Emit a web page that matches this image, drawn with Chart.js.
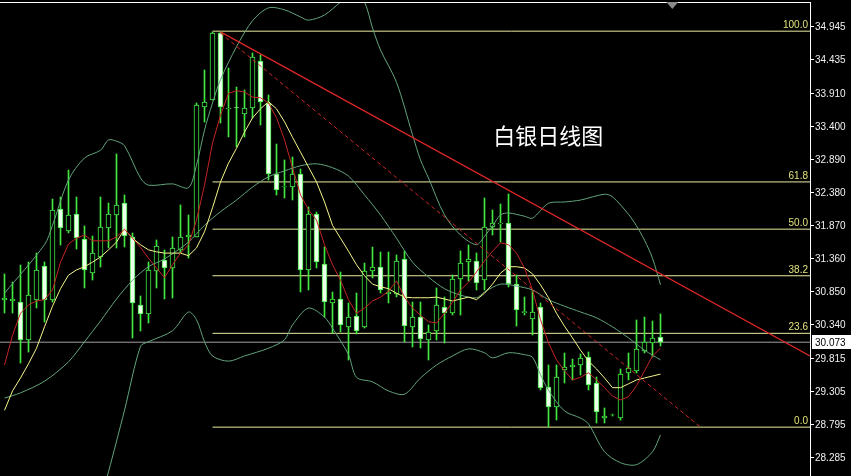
<!DOCTYPE html>
<html>
<head>
<meta charset="utf-8">
<script src="https://cdn.jsdelivr.net/npm/chart.js@4.4.1/dist/chart.umd.min.js"></script>
<style>
  html, body { margin: 0; padding: 0; background: #000; }
  #wrap { width: 851px; height: 476px; }
</style>
</head>
<body>
<div id="wrap"><canvas id="silverChart" width="851" height="476"></canvas></div>
<script>
// daily candles, index 0 = leftmost bar
const opens = [30.725,30.710,30.694,30.107,30.725,31.251,30.725,32.132,31.792,32.054,
  31.668,31.143,31.390,31.838,32.039,32.224,31.699,30.648,30.509,31.173,
  31.343,31.220,31.498,31.699,31.699,33.708,33.816,34.852,33.677,33.700,
  33.600,33.693,34.419,33.770,32.673,32.472,32.472,32.673,31.189,32.055,
  31.282,30.679,30.741,30.308,30.478,30.308,31.173,31.235,30.818,30.818,
  31.359,30.308,30.462,30.107,30.246,30.617,30.524,31.050,31.313,31.328,
  31.034,31.853,31.905,31.915,30.972,30.530,30.432,30.617,29.381,29.071,
  29.643,29.690,29.721,29.844,29.442,28.901,28.948,28.901,29.597,29.628,
  29.937,30.061,30.153];
const highs = [31.127,31.003,31.266,31.313,31.452,31.313,32.286,32.317,32.734,32.317,
  31.869,31.714,32.317,32.224,32.982,32.348,31.761,30.787,31.313,31.653,
  31.498,31.699,32.194,32.039,33.770,34.280,34.867,34.867,34.311,34.017,
  33.971,34.543,34.512,33.894,33.136,32.889,32.935,32.750,32.163,32.085,
  31.544,30.849,31.158,30.679,30.833,31.297,31.544,31.467,31.467,31.421,
  31.483,30.694,30.694,30.339,30.911,30.772,31.112,31.483,31.576,31.452,
  32.302,32.116,32.209,32.364,31.112,30.772,30.880,30.679,29.721,29.721,
  29.906,29.813,29.891,29.922,29.535,29.056,28.963,29.659,29.906,30.416,
  30.462,30.401,30.509];
const lows = [30.524,30.524,29.751,29.921,30.602,30.385,30.694,31.575,31.761,31.513,
  30.911,31.034,31.235,31.529,31.529,31.544,30.138,30.246,30.370,30.911,
  30.741,30.756,31.452,31.374,31.699,33.476,33.816,33.461,33.245,33.090,
  33.245,33.538,33.430,32.580,32.348,32.302,32.271,30.849,30.880,31.220,
  30.462,30.215,30.231,29.798,30.200,30.292,31.065,30.833,30.679,30.772,
  30.076,29.999,29.983,29.798,30.107,30.061,30.493,30.493,31.019,30.880,
  30.880,31.730,31.622,30.926,30.323,30.493,30.184,29.334,28.762,28.870,
  29.442,29.489,29.566,29.334,28.824,28.824,28.932,28.870,29.489,29.597,
  29.906,29.844,30.014];
const closes = [30.756,30.741,30.107,30.802,31.189,30.725,32.116,31.838,32.039,31.683,
  31.189,31.452,31.853,32.054,32.194,31.714,30.679,30.509,31.189,31.560,
  31.220,31.529,31.699,31.730,33.739,33.785,34.852,33.708,33.693,33.693,
  33.693,34.481,33.785,32.673,32.425,32.480,32.673,31.189,32.055,31.313,
  30.694,30.741,30.339,30.462,30.246,31.173,31.235,30.880,30.849,31.328,
  30.323,30.462,30.122,30.231,30.648,30.524,31.050,31.297,31.359,30.988,
  31.853,31.915,31.915,30.972,30.571,30.545,30.540,29.365,29.071,29.535,
  29.690,29.721,29.829,29.411,28.994,28.932,28.950,29.581,29.674,29.968,
  30.076,30.138,30.073];

// moving averages (one value per bar)
const maRed = [29.72,30.18,30.52,30.65,30.71,30.73,30.88,31.31,31.59,31.68,
  31.73,31.64,31.64,31.64,31.70,31.82,31.68,31.54,31.37,31.22,
  31.07,31.27,31.45,31.58,31.96,32.50,33.15,33.58,33.92,33.96,
  33.94,33.86,33.85,33.77,33.54,33.20,32.77,32.35,32.12,31.96,
  31.58,31.27,31.03,30.73,30.52,30.60,30.71,30.77,30.86,31.02,
  30.77,30.60,30.49,30.39,30.37,30.52,30.69,30.88,31.00,31.16,
  31.33,31.48,31.61,31.58,31.45,31.22,30.88,30.42,30.06,29.80,
  29.63,29.49,29.53,29.60,29.49,29.37,29.24,29.18,29.23,29.40,
  29.63,29.86,29.98];
const maYellow = [29.02,29.32,29.52,29.74,29.98,30.31,30.63,30.90,31.11,31.19,
  31.24,31.31,31.39,31.50,31.62,31.82,31.68,31.58,31.50,31.47,
  31.45,31.45,31.45,31.41,31.53,31.78,32.15,32.55,32.84,33.07,
  33.32,33.54,33.68,33.79,33.68,33.48,33.24,33.01,32.78,32.55,
  32.24,31.88,31.68,31.48,31.27,31.10,30.97,30.93,30.90,30.83,
  30.77,30.76,30.76,30.76,30.77,30.74,30.71,30.74,30.77,30.73,
  30.83,30.97,31.14,31.24,31.24,31.22,31.13,30.96,30.76,30.52,
  30.32,30.14,29.95,29.78,29.66,29.52,29.37,29.37,29.43,29.49,
  29.52,29.55,29.58];

// bollinger bands, read at selected bars
const upIdx = [0,5,6,8,10,12,13,14,15,17,18,21,23,24,25,26,27,29,31,33,35,37,38,40,42,43,44,45,46,47,49,51,52,53,55,57,59,60,61,62,63,65,66,68,70,72,75,76,78,79,80,81,82];
const upVal = [30.83,31.58,31.88,32.58,32.92,33.04,33.20,33.18,33.11,32.61,32.50,32.52,32.46,32.81,33.35,33.77,34.13,34.64,35.04,35.24,35.21,35.10,35.05,35.13,35.33,35.42,35.42,35.33,34.93,34.59,34.09,33.28,32.89,32.61,32.04,31.73,31.58,31.71,31.87,32.04,32.07,32.02,31.99,32.22,32.24,32.27,32.36,32.32,32.05,31.87,31.65,31.37,30.96];
const midIdx = [0,2,5,8,10,12,14,16,18,20,23,25,27,29,31,33,35,37,39,41,43,45,47,49,51,53,55,57,59,60,62,64,66,68,70,72,74,76,78,80,82];
const midVal = [29.21,29.29,29.47,29.77,30.08,30.40,30.74,31.03,31.24,31.36,31.62,31.88,32.09,32.27,32.47,32.63,32.72,32.80,32.83,32.77,32.64,32.35,32.04,31.68,31.31,31.08,30.90,30.80,30.76,30.85,30.97,30.94,30.88,30.73,30.63,30.54,30.45,30.31,30.14,29.95,29.80];
const lowIdx = [12,13,15,17,18,21,23,24,25,26,28,30,33,35,36,38,40,41,43,44,46,48,50,52,54,56,58,60,61,63,65,66,67,68,70,72,73,75,77,79,81,82];
const lowVal = [27.63,28.07,29.02,30.01,30.08,30.25,30.54,30.42,30.08,29.86,29.78,29.86,29.98,30.11,30.34,30.60,30.46,30.29,29.88,29.53,29.46,29.32,29.27,29.52,29.72,29.86,29.97,29.91,29.83,29.91,29.88,29.84,29.57,29.33,29.01,28.90,28.81,28.38,28.21,28.18,28.38,28.64];

// fibonacci retracement
const fibLabels = ["0.0", "23.6", "38.2", "50.0", "61.8", "100.0"];
const fibPrices = [28.76, 30.21, 31.10, 31.82, 32.55, 34.88];
const fibStart = 26;

// trend lines
const xMin = -0.5625, xMax = 100.6875;
const trendX = [27, xMax];
const trendY = [34.87, 29.86];
const dashX = [27, 87];
const dashY = [34.85, 28.76];

const tickVals = [34.945,34.435,33.910,33.400,32.890,32.380,31.870,31.360,30.850,30.340,29.815,29.305,28.795,28.285];
const lastPrice = 30.073;

const GREEN = "#40e840";
const FIB = "#ececa0";
const FIB_TEXT = "#e2e27a";

function pts(xs, ys) {
  return xs.map((x, i) => ({ x: x, y: ys[i] }));
}

const idx = closes.map((c, i) => i);
const wickData = idx.map(i => ({ x: i, y: [lows[i], highs[i]] }));
const bodyData = idx.map(i => ({ x: i, y: [opens[i], closes[i]] }));
const bodyFill = idx.map(i => closes[i] >= opens[i] ? "#000000" : "#eeffee");

function line(data, color, extra) {
  return Object.assign({
    type: "line", data: data, borderColor: color, borderWidth: 1,
    pointRadius: 0, fill: false, tension: 0
  }, extra || {});
}

const datasets = [
  { type: "bar", data: wickData, backgroundColor: GREEN, barThickness: 1, grouped: false, order: 4 },
  { type: "bar", data: bodyData, backgroundColor: bodyFill, borderColor: GREEN, borderWidth: 1,
    borderSkipped: false, barThickness: 5, grouped: false, order: 3 },
  line(pts(upIdx, upVal), "#62a47c", { tension: 0.3, order: 2 }),
  line(pts(midIdx, midVal), "#62a47c", { tension: 0.3, order: 2 }),
  line(pts(lowIdx, lowVal), "#62a47c", { tension: 0.3, order: 2 }),
  line(pts(idx, maRed), "#c42424", { order: 1 }),
  line(pts(idx, maYellow), "#f6f68a", { order: 1 }),
  line(pts(trendX, trendY), "#dc2626", { borderWidth: 1.3, order: 0 }),
  line(pts(dashX, dashY), "#d02828", { borderDash: [4, 3], order: 0 }),
  line(pts([xMin, xMax], [lastPrice, lastPrice]), "#a0a0a0", { order: 5 })
];
fibPrices.forEach(p => {
  datasets.push(line(pts([fibStart, xMax], [p, p]), FIB, { order: 5 }));
});

const decorations = {
  id: "decorations",
  beforeDraw(chart) {
    const ctx = chart.ctx;
    ctx.save();
    ctx.fillStyle = "#000";
    ctx.fillRect(0, 0, chart.width, chart.height);
    ctx.restore();
  },
  afterDraw(chart) {
    const { ctx, chartArea: a, scales: { y } } = chart;
    ctx.save();
    // top frame
    ctx.strokeStyle = "#ffffff";
    ctx.lineWidth = 1;
    ctx.beginPath();
    ctx.moveTo(a.left, a.top + 0.5);
    ctx.lineTo(a.right, a.top + 0.5);
    ctx.stroke();

    // fib level labels
    ctx.font = "10px 'Liberation Sans'";
    ctx.fillStyle = FIB_TEXT;
    ctx.textAlign = "right";
    ctx.textBaseline = "bottom";
    fibPrices.forEach((p, i) => {
      ctx.fillText(fibLabels[i], a.right - 2, y.getPixelForValue(p) - 1);
    });

    // title
    ctx.font = "22px 'Noto Sans CJK SC'";
    ctx.fillStyle = "#ffffff";
    ctx.textAlign = "center";
    ctx.textBaseline = "middle";
    ctx.fillText("白银日线图", a.left + a.width * 0.677, a.top + 134);

    // last price tag
    const py = Math.round(y.getPixelForValue(lastPrice));
    ctx.fillStyle = "#ffffff";
    ctx.fillRect(a.right + 2, py - 7, chart.width - a.right - 2, 14);
    ctx.fillStyle = "#000000";
    ctx.font = "10px 'Liberation Sans'";
    ctx.textAlign = "left";
    ctx.fillText(lastPrice.toFixed(3), a.right + 5, py + 1);

    // chart shift marker
    ctx.fillStyle = "#8a8a8a";
    ctx.beginPath();
    ctx.moveTo(a.left + a.width * 0.83 - 6, a.top);
    ctx.lineTo(a.left + a.width * 0.83 + 6, a.top);
    ctx.lineTo(a.left + a.width * 0.83, a.top + 7);
    ctx.closePath();
    ctx.fill();
    ctx.restore();
  }
};

new Chart(document.getElementById("silverChart"), {
  type: "bar",
  data: { datasets: datasets },
  options: {
    responsive: false,
    animation: false,
    events: [],
    layout: { padding: { top: 2, left: 0, right: 0, bottom: 0 }, autoPadding: false },
    plugins: { legend: { display: false }, tooltip: { enabled: false } },
    scales: {
      x: { type: "linear", min: xMin, max: xMax, display: false, offset: false },
      y: {
        position: "right",
        min: 28.005,
        max: 35.331,
        afterBuildTicks: s => { s.ticks = tickVals.map(v => ({ value: v })); },
        afterFit: s => { s.width = 41; s.paddingTop = 0; s.paddingBottom = 0; },
        ticks: {
          color: "#f0f0f0",
          font: { family: "Liberation Sans", size: 10 },
          padding: 1,
          autoSkip: false,
          callback: v => Number(v).toFixed(3)
        },
        grid: { drawOnChartArea: false, color: "#ffffff", tickLength: 4 },
        border: { color: "#ffffff", width: 1 }
      }
    }
  },
  plugins: [decorations]
});
</script>
</body>
</html>
